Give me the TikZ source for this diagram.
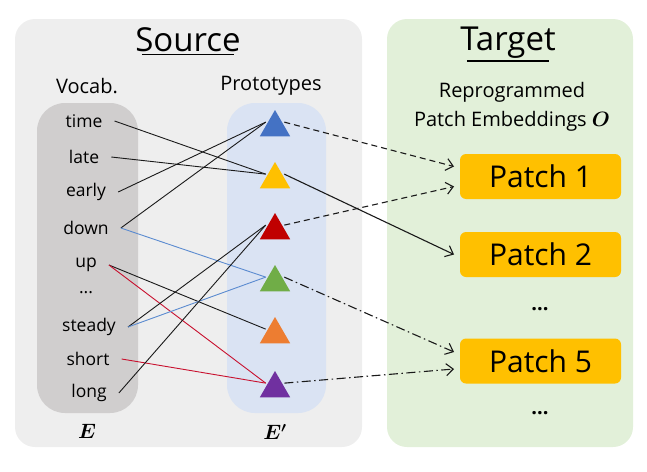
\documentclass[tikz,border=0pt]{standalone}
\usepackage{fontspec}
\setmainfont{Open Sans}
\usepackage{amsmath,bm}
\usetikzlibrary{arrows.meta,shapes.geometric,calc}
\definecolor{panelgray}{HTML}{EEEEEE}
\definecolor{panelgreen}{HTML}{E2F0D9}
\definecolor{vocabgray}{HTML}{D0CECE}
\definecolor{protoblue}{HTML}{DAE3F3}
\definecolor{tblue}{HTML}{4472C4}
\definecolor{tyellow}{HTML}{FFC000}
\definecolor{tred}{HTML}{C00000}
\definecolor{tgreen}{HTML}{70AD47}
\definecolor{torange}{HTML}{ED7D31}
\definecolor{tpurple}{HTML}{7030A0}
\definecolor{lblue}{HTML}{5B8BD0}
\definecolor{lred}{HTML}{C8102E}
\definecolor{ink}{HTML}{1A1A1A}
\begin{document}
\begin{tikzpicture}[x=1pt,y=-1pt,
  word/.style={font=\fontsize{17.5}{20}\selectfont, inner xsep=12pt, inner ysep=2pt},
  tri/.style={regular polygon, regular polygon sides=3, minimum size=35pt, inner sep=0pt, outer sep=2pt, fill=#1},
  patchbox/.style={fill=tyellow, rounded corners=6pt, minimum width=161pt, minimum height=45pt, font=\fontsize{30}{34}\selectfont, outer sep=6pt},
  title/.style={font=\fontsize{33}{38}\selectfont},
  sub/.style={font=\fontsize{20}{24}\selectfont},
  link/.style={line width=0.9pt, draw=ink},
  arr/.style={line width=1.1pt, draw=ink, -{Straight Barb[length=7pt,width=12pt,line width=1.1pt]}},
  dashedarr/.style={arr, dash pattern=on 6pt off 4pt},
  dotdasharr/.style={arr, dash pattern=on 9pt off 3.5pt on 1.5pt off 3.5pt}
]
\useasboundingbox (0,0) rectangle (647,471);
% panels
\fill[panelgray, rounded corners=20pt] (15,19) rectangle (362,447);
\fill[panelgreen, rounded corners=20pt] (387,19) rectangle (633,447);
\fill[vocabgray, rounded corners=28pt] (37,103) rectangle (138,413);
\fill[protoblue, rounded corners=28pt] (227,103) rectangle (326,413);
% titles
\node[title] (srct) at (188,40) {Source};
\draw[line width=1.6pt] ($(srct.south west)+(10,-1)$) -- ($(srct.south east)+(-10,-1)$);
\node[title] (tgtt) at (508,43) {Target};
\draw[line width=1.6pt] ($(tgtt.south west)+(10,-1)$) -- ($(tgtt.south east)+(-10,-1)$);
\node[sub] (voc) at (87,86) {Vocab.};
\node[sub] (pro) at (271,86) {Prototypes};
\node[sub] (rep1) at (512,92) {Reprogrammed};
\node[sub] (rep2) at (512,121) {Patch Embeddings $\bm{O}$};
\node[font=\fontsize{20}{24}\selectfont] (lE) at (87,431) {$\bm{E}$};
\node[font=\fontsize{20}{24}\selectfont] (lEp) at (275,432) {$\bm{E'}$};
% words
\node[word] (time) at (84,121) {time};
\node[word] (late) at (84,157) {late};
\node[word] (early) at (86,192) {early};
\node[word] (down) at (86,228) {down};
\node[word] (up) at (86,265) {up};
\node[word] (dots) at (86,293) {...};
\node[word] (steady) at (89,327) {steady};
\node[word] (short) at (88,359) {short};
\node[word] (long) at (89,393) {long};
% prototypes
\node[tri=tblue] (pb) at (275,127.5) {};
\node[tri=tyellow] (py) at (275,179.5) {};
\node[tri=tred] (pr) at (275,230.5) {};
\node[tri=tgreen] (pg) at (275,282.5) {};
\node[tri=torange] (po) at (275,334.5) {};
\node[tri=tpurple] (pp) at (275,388.5) {};
% patches
\node[patchbox] (p1) at (540.5,176.5) {Patch 1};
\node[patchbox] (p2) at (540.5,254.5) {Patch 2};
\node[font=\fontsize{20}{24}\selectfont\bfseries] (d1) at (540,309) {...};
\node[patchbox] (p5) at (540.5,361) {Patch 5};
\node[font=\fontsize{20}{24}\selectfont\bfseries] (d2) at (540,413) {...};
% links
\draw[link] (time.east) -- (py.side 1);
\draw[link] (late.east) -- (py.side 1);
\draw[link] (early.east) -- (pb.side 1);
\draw[link] (down.east) -- (pb.side 1);
\draw[link, draw=lblue] (down.east) -- (pg.side 1);
\draw[link] (up.east) -- (po.side 1);
\draw[link, draw=lred] (up.east) -- (pp.side 1);
\draw[link] (steady.east) -- (pr.side 1);
\draw[link, draw=lblue] (steady.east) -- (pg.side 1);
\draw[link, draw=lred] (short.east) -- (pp.side 1);
\draw[link] (long.east) -- (pr.side 1);
% arrows
\draw[dashedarr] (pb.side 3) -- ([yshift=10pt]p1.west);
\draw[dashedarr] (pr.side 3) -- ([yshift=-10pt]p1.west);
\draw[arr] (py.side 3) -- (p2.west);
\draw[dotdasharr] (pg.side 3) -- ([yshift=9pt]p5.west);
\draw[dotdasharr] (pp.side 3) -- ([yshift=-8pt]p5.west);
\end{tikzpicture}
\end{document}
